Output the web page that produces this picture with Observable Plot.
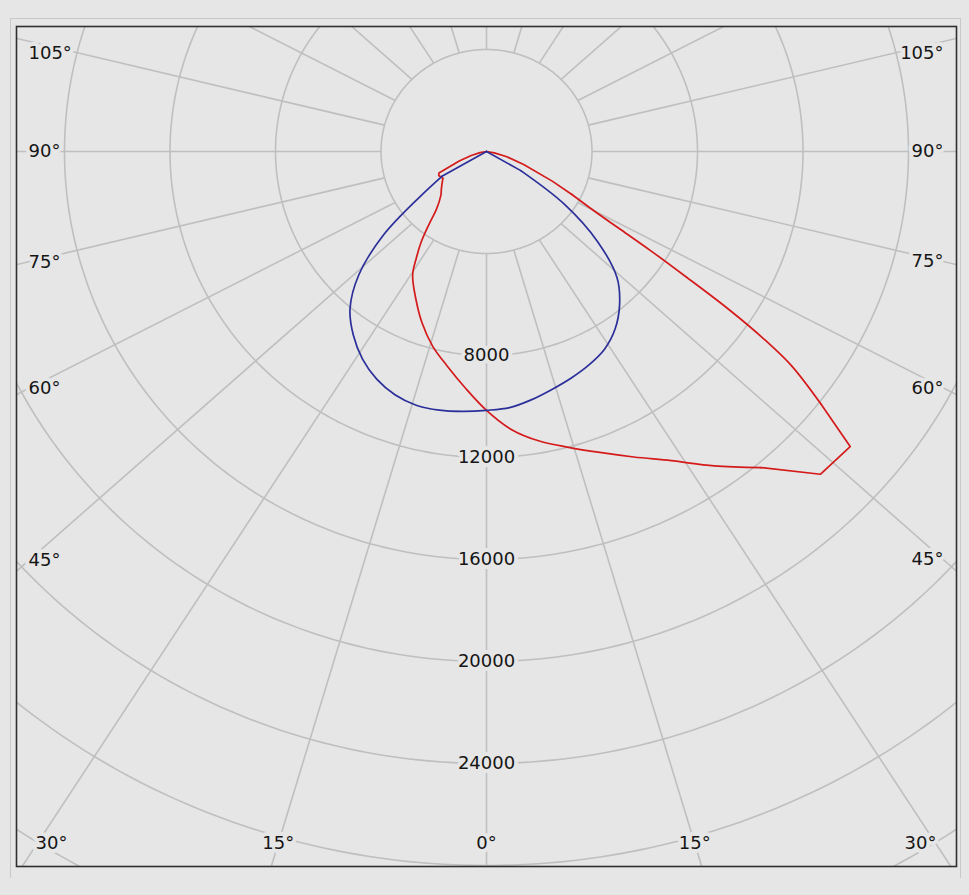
<!DOCTYPE html>
<html>
<head>
<meta charset="utf-8">
<script src="https://cdn.jsdelivr.net/npm/d3@7"></script>
<script src="https://cdn.jsdelivr.net/npm/@observablehq/plot@0.6"></script>
<style>
html, body { margin: 0; padding: 0; background: #e6e6e6; }
#wrap { position: relative; width: 969px; height: 895px; overflow: hidden; }
#outer { position: absolute; left: 10px; top: 18px; width: 951px; height: 860px; box-sizing: border-box;
  border-top: 1px solid #c8c8c8; border-left: 1px solid #c8c8c8; border-right: 1px solid #c8c8c8; }
#chart { position: absolute; left: 0; top: 0; }
</style>
</head>
<body>
<div id="wrap"><div id="outer"></div><div id="chart"></div></div>
<script>
// ---- data ----
const gammaTicks = [0, 15, 30, 45, 60, 75, 90, 105];
const ringValues = [4000, 8000, 12000, 16000, 20000, 24000, 28000, 32000, 36000];
const ringLabels = [8000, 12000, 16000, 20000, 24000];
const spokeAngles = d3.range(0, 360, 15);

// C0-C180 plane (blue)
const blueAngles = [-90, -65, -60, -55, -50, -45, -40, -35, -30, -25, -20, -15, -10, -5, 0,
  5, 10, 15, 20, 25, 30, 35, 40, 45, 50, 55, 60, 65, 90];
const blueValues = [0, 0, 1950, 3050, 5100, 6850, 8050, 8800, 9400, 9850, 10150, 10300, 10300, 10230, 10150,
  10080, 9880, 9650, 9440, 9220, 8950, 8500, 7850, 7000, 5500, 3600, 1500, 0, 0];

// C90-C270 plane (red)
const redAngles = [-90, -85, -80, -75, -70, -65, -62.5, -57.5, -50, -45, -40, -37.5, -35, -32.5, -30,
  -25, -20, -15, -10, -5, 0, 5, 10, 15, 20, 25, 30, 35, 40, 45, 50, 52, 54, 55, 56, 57, 58, 59, 60,
  62.5, 65, 70, 75, 80, 90];
const redValues = [0, 0, 250, 600, 1100, 1990, 2040, 1960, 2230, 2450, 2950, 3550, 4300, 4950, 5600,
  6350, 7150, 7900, 8550, 9300, 10150, 10950, 11530, 12010, 12560, 13220, 14000, 15050, 16180, 17900, 18000, 16100, 14300, 12900, 11100, 9000, 7350, 5900, 4900,
  3650, 2750, 1500, 800, 300, 0];

// ---- layout ----
const W = 969, H = 895;
const mL = 16, mR = 13, mT = 26, mB = 29;
const kx = 0.026375, ky = 0.0255;     // px per cd
const cxPx = 486, cyPx = 151;          // pole position in px
const xDomain = [(mL - cxPx) / kx, (W - mR - cxPx) / kx];
const yDomain = [-(H - mB - cyPx) / ky, (cyPx - mT) / ky];
const BG = "#e6e6e6";
const GRID = "#bfbfbf";
const FONT = "DejaVu Sans";

const rad = d => d * Math.PI / 180;
const toXY = (a, v) => ({x: v * Math.sin(rad(a)), y: -v * Math.cos(rad(a))});

const ringPts = ringValues.flatMap(r => d3.range(0, 361, 1).map(a => ({r, ...toXY(a, r)})));
const innerR = ringValues[0];
const spokeSkew = 1.10, spokeLen = 60000;
const spokes = spokeAngles.map(a => {
  const s = Math.sin(rad(a)), c = Math.cos(rad(a));
  return {x1: innerR * s, y1: -innerR * c, x2: innerR * s + spokeLen * spokeSkew * s, y2: -(innerR * c + spokeLen * c)};
});

// angle labels along the frame
const fx0 = mL, fx1 = W - mR, fy1 = H - mB;
const angleLabels = [];
for (const g of gammaTicks) {
  for (const side of (g === 0 ? [1] : [-1, 1])) {
    const a = rad(g) * side;
    const s = Math.sin(a), c = Math.cos(a);
    const p0 = [cxPx + innerR * s * kx, cyPx + innerR * c * ky];
    const d = [spokeSkew * s * kx, c * ky];
    const tSide = Math.abs(d[0]) < 1e-9 ? Infinity : ((d[0] < 0 ? fx0 : fx1) - p0[0]) / d[0];
    const tBot = d[1] > 1e-9 ? (fy1 - p0[1]) / d[1] : Infinity;
    let px, py, anchor;
    if (tBot <= tSide) {
      py = fy1 - 23;
      px = p0[0] + d[0] * (py - p0[1]) / d[1];
      px = Math.max(51, Math.min(W - 49, px));
      anchor = "middle";
    } else {
      px = d[0] < 0 ? fx0 + 12 : fx1 - 13;
      py = p0[1] + d[1] * (px - p0[0]) / d[0];
      py = Math.max(mT + 27, Math.min(fy1 - 23, py));
      anchor = d[0] < 0 ? "start" : "end";
    }
    angleLabels.push({text: `${g}°`, x: (px - cxPx) / kx, y: -(py - cyPx) / ky, anchor});
  }
}

// curve pieces: straight where the original polyline has corners, smooth elsewhere
const piece = (angles, values, lo, hi) =>
  angles.map((a, i) => ({a, ...toXY(a, values[i])})).filter(d => d.a >= lo && d.a <= hi);

const curveMarks = (angles, values, stroke, breaks) => breaks.map(([lo, hi, curve]) =>
  Plot.line(piece(angles, values, lo, hi), {x: "x", y: "y", stroke, strokeWidth: 1.7, curve, clip: true}));

const labelStyle = {fontSize: 18, fontFamily: FONT, fill: "#151515", stroke: BG, strokeWidth: 8, paintOrder: "stroke"};

const chart = Plot.plot({
  width: W, height: H,
  marginLeft: mL, marginRight: mR, marginTop: mT, marginBottom: mB,
  style: {background: "transparent", fontFamily: FONT},
  x: {domain: xDomain, axis: null},
  y: {domain: yDomain, axis: null},
  marks: [
    Plot.line(ringPts, {x: "x", y: "y", z: "r", stroke: GRID, strokeWidth: 1.6, clip: true}),
    Plot.link(spokes, {x1: "x1", y1: "y1", x2: "x2", y2: "y2", stroke: GRID, strokeWidth: 1.6, clip: true}),
    Plot.text(ringLabels, {x: () => 0, y: d => -d, text: d => String(d), ...labelStyle}),
    Plot.text(angleLabels.filter(d => d.anchor === "middle"), {x: "x", y: "y", text: "text", textAnchor: "middle", ...labelStyle}),
    Plot.text(angleLabels.filter(d => d.anchor === "start"), {x: "x", y: "y", text: "text", textAnchor: "start", ...labelStyle}),
    Plot.text(angleLabels.filter(d => d.anchor === "end"), {x: "x", y: "y", text: "text", textAnchor: "end", ...labelStyle}),
    ...curveMarks(redAngles, redValues, "#d41a1a",
      [[-90, -57.5, "linear"], [-57.5, 40, "catmull-rom"], [40, 52, "linear"], [52, 62.5, "catmull-rom"], [62.5, 90, "linear"]]),
    ...curveMarks(blueAngles, blueValues, "#2b2f99",
      [[-90, -60, "linear"], [-60, 60, "catmull-rom"], [60, 90, "linear"]]),
    Plot.frame({stroke: "#2f2f2f", strokeWidth: 1.6})
  ]
});
document.getElementById("chart").appendChild(chart);
</script>
</body>
</html>
